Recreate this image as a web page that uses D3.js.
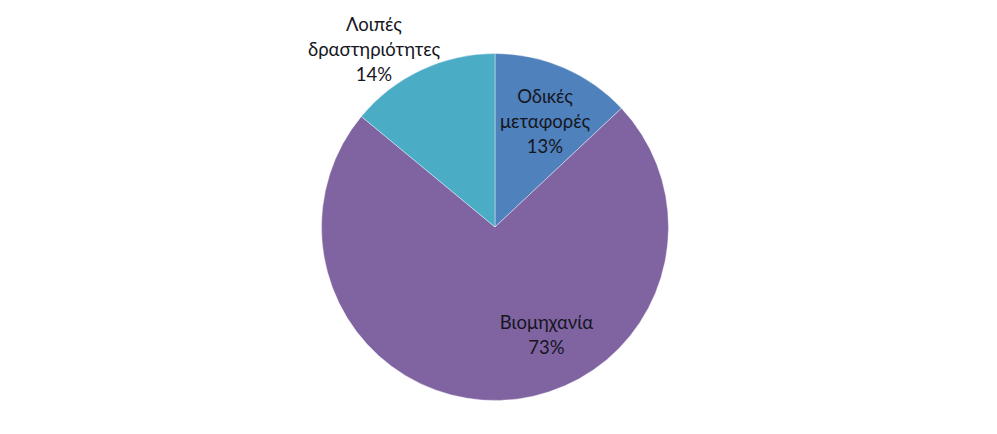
<!DOCTYPE html>
<html><head><meta charset="utf-8">
<script src="https://cdn.jsdelivr.net/npm/d3@7"></script>
<style>html,body{margin:0;padding:0;background:#fff;}svg{display:block;}</style>
</head><body>
<svg id="c" width="997" height="434"></svg>
<script>
const categories = ["Οδικές μεταφορές", "Βιομηχανία", "Λοιπές δραστηριότητες"];
const values = [13, 73, 14];
const labelLines = [["Οδικές", "μεταφορές", "13%"], ["Βιομηχανία", "73%"], ["Λοιπές", "δραστηριότητες", "14%"]];
const colors = ["#4F81BD", "#8064A2", "#4BACC6"];

// layout (not data)
const cx = 495, cy = 227, R = 173.5;
const labelCenters = [[545, 122], [546.5, 335.5], [374, 50]];
const lineH = 25;

const svg = d3.select("#c");
const g = svg.append("g").attr("transform", `translate(${cx},${cy})`);
const pie = d3.pie().sort(null).value(d => d)(values);
const arc = d3.arc().innerRadius(0).outerRadius(R);
g.selectAll("path").data(pie).join("path")
  .attr("d", arc)
  .attr("fill", (d, i) => colors[i])
  .attr("stroke", "rgba(255,255,255,0.5)")
  .attr("stroke-width", 0.8);

labelLines.forEach((lines, i) => {
  const [x, y] = labelCenters[i];
  const t = svg.append("text")
    .attr("text-anchor", "middle")
    .attr("font-family", "Lato, 'Open Sans', sans-serif")
    .attr("font-size", 18.5)
    .attr("fill", "#16161e");
  const n = lines.length;
  lines.forEach((l, k) => {
    t.append("tspan").attr("x", x)
      .attr("y", y + (k - (n - 1) / 2) * lineH)
      .attr("dy", "0.35em")
      .text(l);
  });
});
</script>
</body></html>
